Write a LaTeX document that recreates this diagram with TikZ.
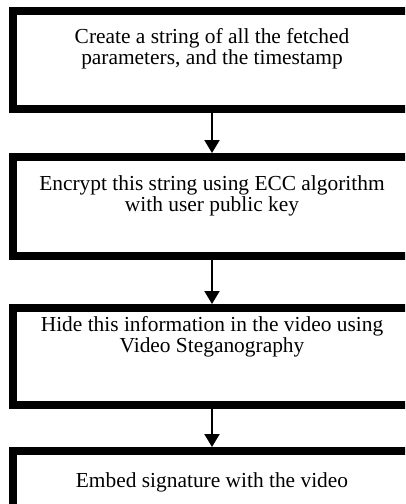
\documentclass[tikz,border=0pt]{standalone}
\usepackage{fontspec}
\setmainfont{Liberation Serif}
\usetikzlibrary{arrows.meta}
\begin{document}
\begin{tikzpicture}[x=1pt,y=-1pt,
  stepbox/.style={draw=black,line width=7.5pt,rectangle,minimum width=406pt,inner sep=0pt,anchor=north west},
  steptext/.style={align=center,font=\fontsize{21.4}{21}\selectfont,inner sep=0pt,anchor=base},
  flow/.style={draw=black,line width=2pt,-{Triangle[width=15pt,length=13pt]}}]
  \clip (0,0) rectangle (405,504);
  \fill[white] (0,0) rectangle (405,504);
  % boxes (outer edges)
  \node[stepbox,minimum height=98pt] (b1) at (9,7) {};
  \node[stepbox,minimum height=99pt] (b2) at (9,153) {};
  \node[stepbox,minimum height=97pt] (b3) at (9,304) {};
  \node[stepbox,minimum height=80pt] (b4) at (9,447) {};
  % labels (placed by the baseline of their last line)
  \node[steptext] (t1) at (212,64) {Create a string of all the fetched\\parameters, and the timestamp};
  \node[steptext] (t2) at (212,211) {Encrypt this string using ECC algorithm\\with user public key};
  \node[steptext] (t3) at (212,352) {Hide this information in the video using\\Video Steganography};
  \node[steptext] (t4) at (212,487) {Embed signature with the video};
  % connectors
  \draw[flow] (b1.south -| t1) -- (b2.north -| t1);
  \draw[flow] (b2.south -| t2) -- (b3.north -| t2);
  \draw[flow] (b3.south -| t3) -- (b4.north -| t3);
\end{tikzpicture}
\end{document}
